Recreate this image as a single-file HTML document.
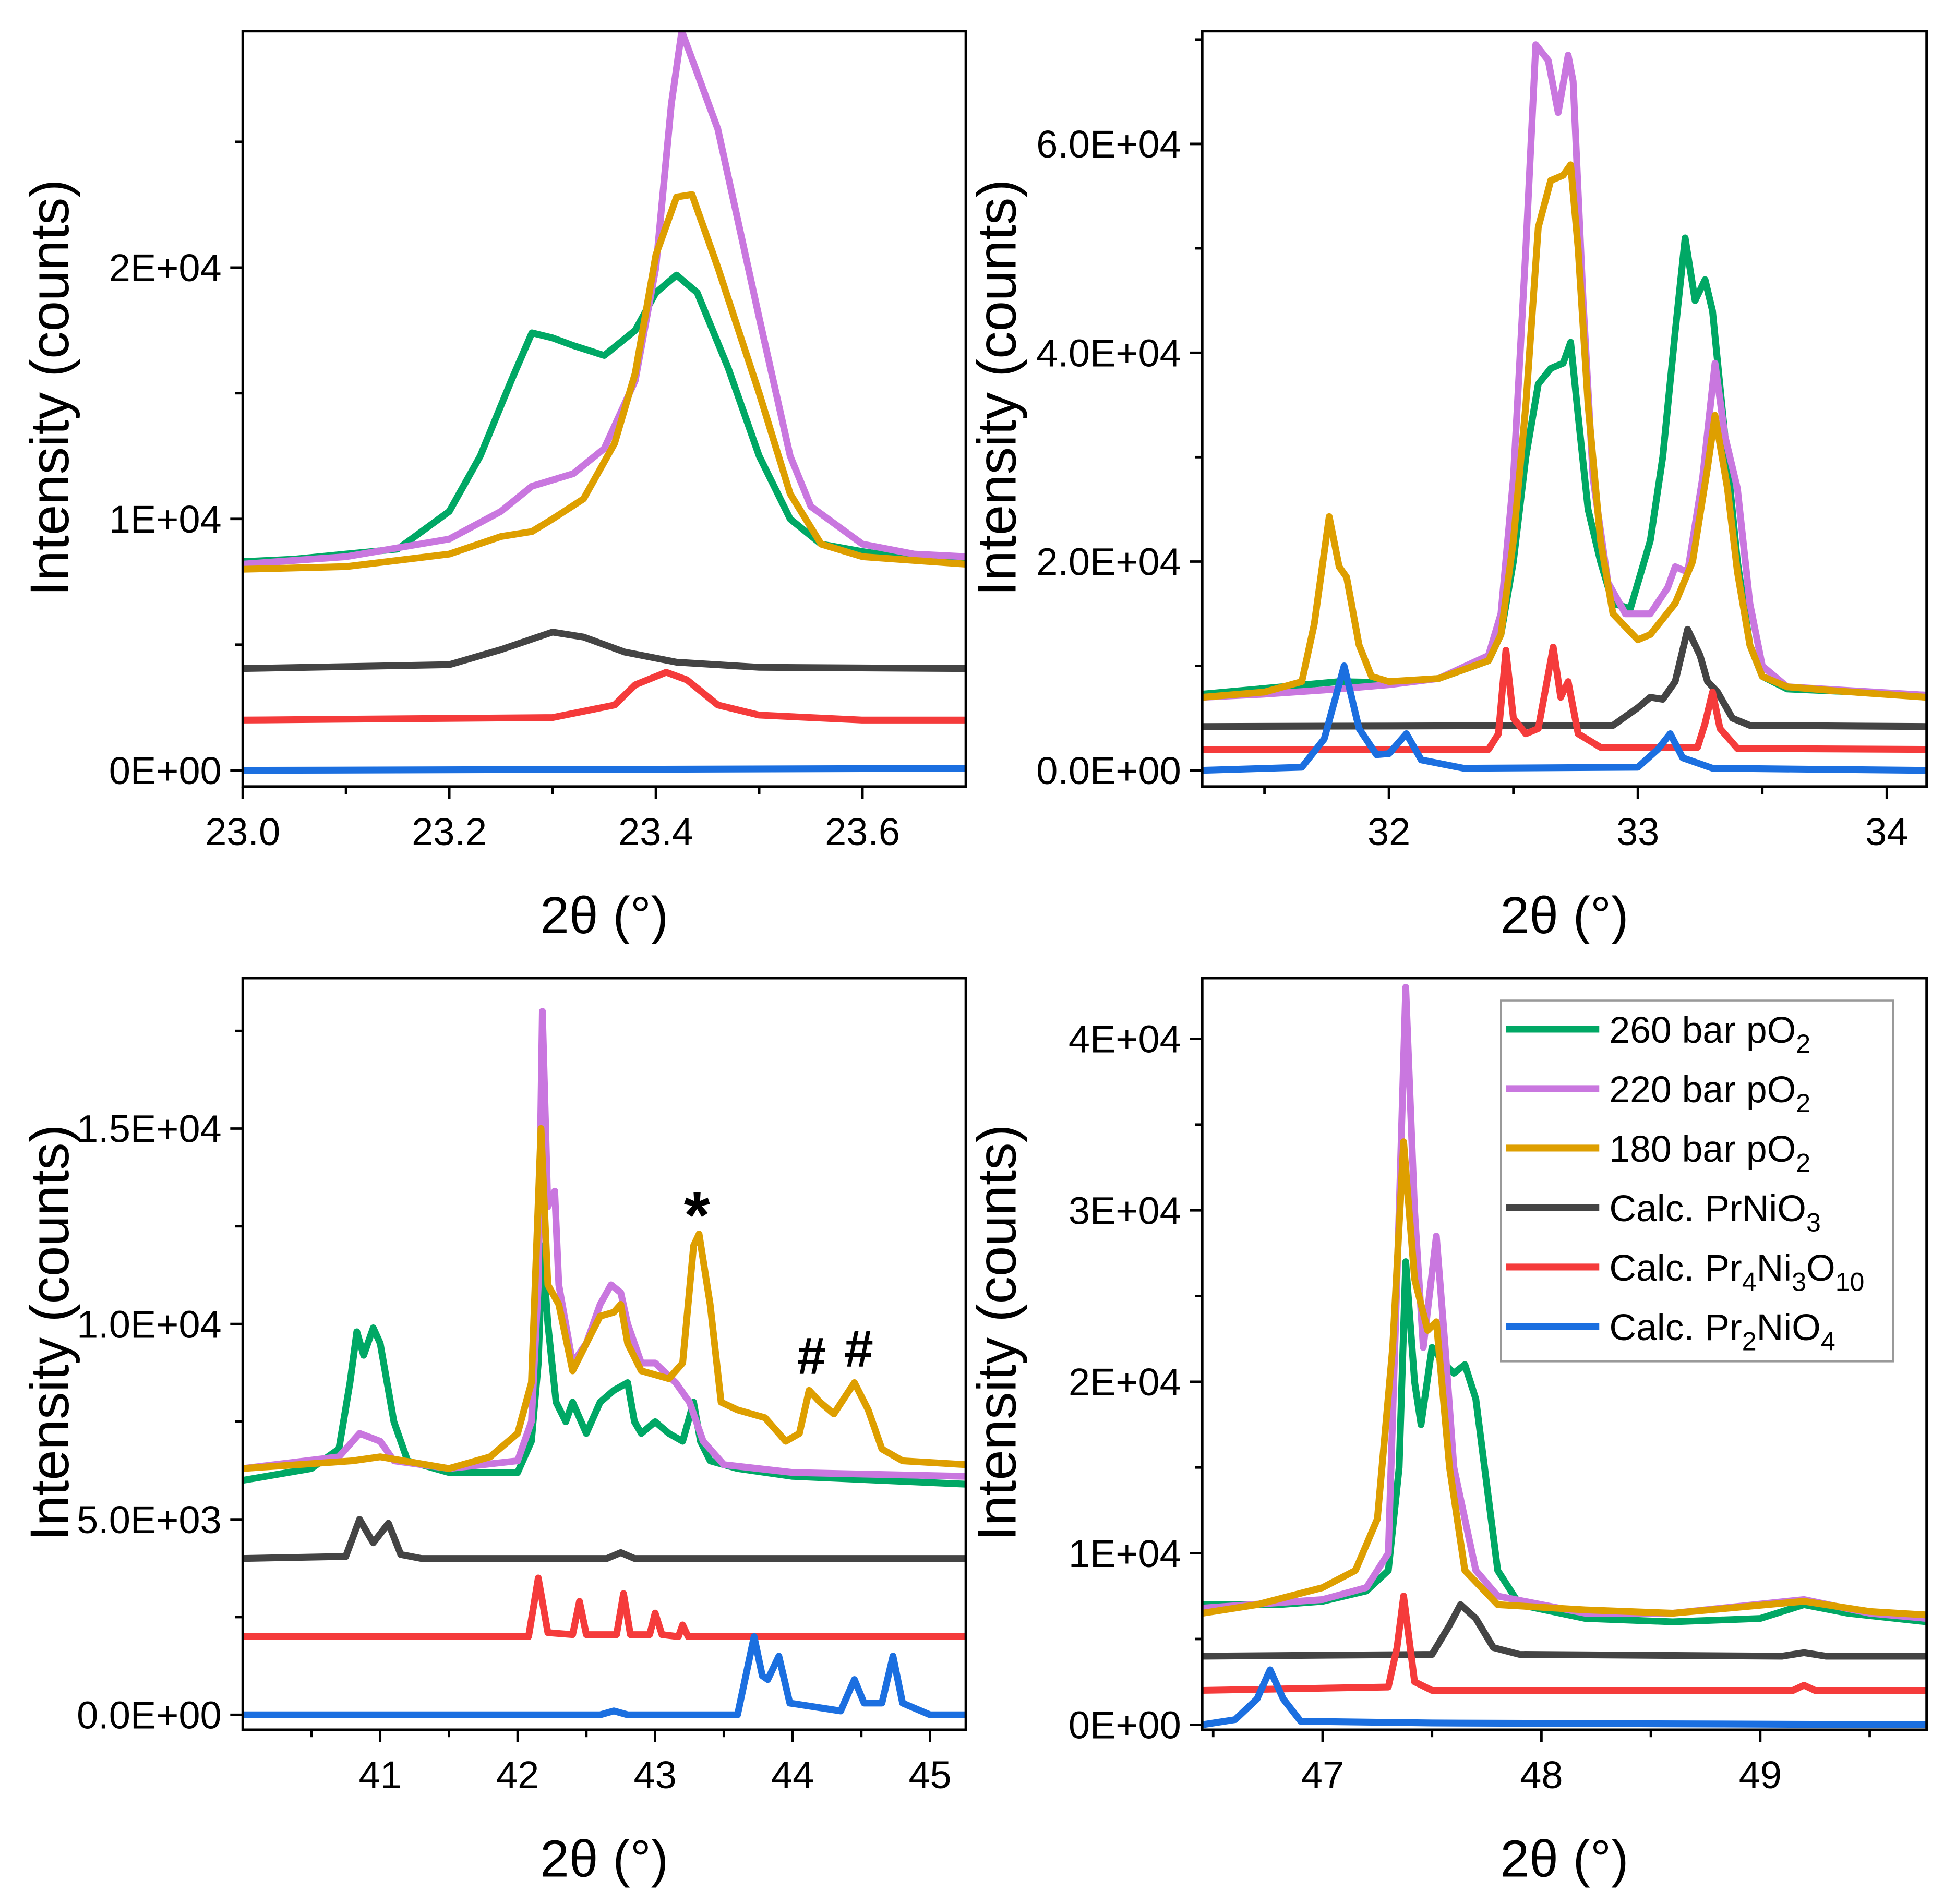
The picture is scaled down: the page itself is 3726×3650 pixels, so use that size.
<!DOCTYPE html>
<html><head><meta charset="utf-8"><style>
html,body{margin:0;padding:0;background:#fff;}
svg{display:block;}
text{font-family:"Liberation Sans",sans-serif;fill:#000;}
.tk{font-family:"Liberation Sans Narrow","Liberation Sans",sans-serif;font-size:31px;}
</style></head><body>
<svg id="chart" xmlns="http://www.w3.org/2000/svg" width="3726" height="3650" viewBox="0 0 1562 1530"></svg>
<script>
// ---- Panel 1 data (23.0–23.7) ----
const p1Green=[[23.0,8300],[23.05,8400],[23.1,8600],[23.15,8800],[23.2,10300],[23.23,12500],[23.26,15500],[23.28,17400],[23.3,17200],[23.32,16900],[23.35,16500],[23.38,17500],[23.4,19000],[23.42,19700],[23.44,19000],[23.47,16000],[23.5,12500],[23.53,10000],[23.56,9000],[23.6,8700],[23.65,8400],[23.7,8300]];
const p1Purple=[[23.0,8200],[23.1,8500],[23.2,9200],[23.25,10300],[23.28,11300],[23.32,11800],[23.35,12800],[23.38,15500],[23.4,20000],[23.415,26500],[23.425,29400],[23.46,25500],[23.5,18000],[23.53,12500],[23.55,10500],[23.6,9000],[23.65,8600],[23.7,8500]];
const p1Orange=[[23.0,8000],[23.1,8100],[23.2,8600],[23.25,9300],[23.28,9500],[23.3,10000],[23.33,10800],[23.36,13000],[23.38,15800],[23.4,20500],[23.42,22800],[23.435,22900],[23.46,20000],[23.5,15000],[23.53,11000],[23.56,9000],[23.6,8500],[23.7,8200]];
const p1Gray=[[23.0,4050],[23.2,4200],[23.25,4800],[23.3,5500],[23.33,5300],[23.37,4700],[23.42,4300],[23.5,4100],[23.7,4050]];
const p1Red=[[23.0,2000],[23.3,2100],[23.36,2600],[23.38,3400],[23.41,3900],[23.43,3600],[23.46,2600],[23.5,2200],[23.6,2000],[23.7,2000]];
const p1Blue=[[23.0,0],[23.7,80]];
// ---- Panel 2 data (31.25–34.16) ----
const p2Green=[[31.25,7300],[31.8,8500],[32.0,8400],[32.2,8800],[32.4,10500],[32.45,13000],[32.5,20000],[32.55,30000],[32.6,37000],[32.65,38500],[32.7,39000],[32.73,41000],[32.76,34000],[32.8,25000],[32.85,20000],[32.9,16000],[32.97,15500],[33.05,22000],[33.1,30000],[33.15,42000],[33.19,51000],[33.23,45000],[33.27,47000],[33.3,44000],[33.35,32000],[33.4,20000],[33.45,12000],[33.5,9000],[33.6,7800],[34.16,7200]];
const p2Purple=[[31.25,7000],[31.5,7300],[31.8,7800],[32.0,8200],[32.2,8800],[32.4,11000],[32.45,15000],[32.5,28000],[32.55,50000],[32.59,69500],[32.64,68000],[32.68,63000],[32.72,68500],[32.74,66000],[32.78,45000],[32.82,28000],[32.88,18000],[32.95,15000],[33.05,15000],[33.12,17500],[33.15,19500],[33.2,19000],[33.26,28000],[33.31,39000],[33.35,32000],[33.4,27000],[33.45,16000],[33.5,10000],[33.6,8000],[34.16,7200]];
const p2Orange=[[31.25,7000],[31.5,7500],[31.65,8500],[31.7,14000],[31.76,24300],[31.8,19500],[31.83,18500],[31.88,12000],[31.93,9000],[32.0,8500],[32.2,8800],[32.4,10500],[32.45,13000],[32.5,22000],[32.55,35000],[32.6,52000],[32.65,56500],[32.7,57000],[32.73,58000],[32.76,50000],[32.8,35000],[32.85,22000],[32.9,15000],[33.0,12500],[33.05,13000],[33.15,16000],[33.22,20000],[33.28,29000],[33.31,34000],[33.36,27000],[33.4,19000],[33.45,12000],[33.5,9000],[33.6,8000],[33.8,7600],[34.16,7000]];
const p2Gray=[[31.25,4200],[32.9,4300],[33.0,6000],[33.05,7000],[33.1,6800],[33.15,8500],[33.2,13500],[33.25,11000],[33.28,8500],[33.32,7500],[33.38,5000],[33.45,4300],[34.16,4200]];
const p2Red=[[31.25,2000],[32.4,2000],[32.44,3500],[32.47,11500],[32.5,5000],[32.55,3500],[32.6,4000],[32.66,11800],[32.69,7000],[32.72,8500],[32.76,3500],[32.85,2200],[33.24,2200],[33.27,4500],[33.3,7500],[33.33,4000],[33.4,2100],[34.16,2000]];
const p2Blue=[[31.25,0],[31.65,300],[31.74,3000],[31.82,10000],[31.88,4000],[31.95,1500],[32.0,1600],[32.07,3500],[32.13,1000],[32.3,200],[33.0,300],[33.08,2000],[33.13,3500],[33.18,1200],[33.3,200],[34.16,0]];
// ---- Panel 3 data (40.0–45.26) ----
const p3Green=[[40.0,6000],[40.5,6300],[40.7,6800],[40.78,8500],[40.83,9800],[40.88,9200],[40.95,9900],[41.0,9500],[41.1,7500],[41.2,6500],[41.5,6200],[42.0,6200],[42.1,7000],[42.15,9000],[42.18,12000],[42.22,10000],[42.28,8000],[42.35,7500],[42.4,8000],[42.5,7200],[42.6,8000],[42.7,8300],[42.8,8500],[42.85,7500],[42.9,7200],[43.0,7500],[43.1,7200],[43.2,7000],[43.28,8000],[43.33,7000],[43.4,6500],[43.6,6300],[44.0,6100],[45.26,5900]];
const p3Purple=[[40.0,6300],[40.7,6600],[40.85,7200],[41.0,7000],[41.1,6500],[41.5,6300],[42.0,6500],[42.1,7500],[42.15,11000],[42.18,18000],[42.22,13000],[42.27,13400],[42.3,11000],[42.4,9000],[42.5,9500],[42.6,10500],[42.68,11000],[42.75,10800],[42.8,10000],[42.9,9000],[43.0,9000],[43.15,8500],[43.25,8000],[43.35,7000],[43.5,6400],[44.0,6200],[45.26,6100]];
const p3Orange=[[40.0,6300],[40.8,6500],[41.0,6600],[41.5,6300],[41.8,6600],[42.0,7200],[42.1,8500],[42.17,15000],[42.22,11000],[42.3,10500],[42.4,8800],[42.5,9500],[42.6,10200],[42.7,10300],[42.75,10500],[42.8,9500],[42.9,8800],[43.1,8600],[43.2,9000],[43.28,12000],[43.32,12300],[43.4,10500],[43.48,8000],[43.6,7800],[43.8,7600],[43.95,7000],[44.05,7200],[44.12,8300],[44.2,8000],[44.3,7700],[44.45,8500],[44.55,7800],[44.65,6800],[44.8,6500],[45.26,6400]];
const p3Gray=[[40.0,4000],[40.75,4050],[40.85,5000],[40.95,4400],[41.06,4900],[41.15,4100],[41.3,4000],[42.65,4000],[42.75,4150],[42.85,4000],[45.26,4000]];
const p3Red=[[40.0,2000],[42.08,2000],[42.15,3500],[42.22,2100],[42.4,2050],[42.45,2900],[42.5,2050],[42.72,2050],[42.77,3100],[42.82,2050],[42.96,2050],[43.0,2600],[43.05,2050],[43.17,2000],[43.2,2300],[43.24,2000],[45.26,2000]];
const p3Blue=[[40.0,0],[42.6,0],[42.7,100],[42.8,0],[43.6,0],[43.72,2000],[43.78,1000],[43.82,900],[43.9,1500],[43.98,300],[44.35,100],[44.45,900],[44.52,300],[44.65,300],[44.73,1500],[44.8,300],[45.0,0],[45.26,0]];
// ---- Panel 4 data (46.45–49.76) ----
const p4Green=[[46.45,7000],[46.8,7000],[47.0,7200],[47.2,7800],[47.3,9000],[47.35,15000],[47.38,27000],[47.42,20000],[47.45,17500],[47.5,22000],[47.56,21000],[47.6,20500],[47.65,21000],[47.7,19000],[47.75,14000],[47.8,9000],[47.9,7000],[48.2,6200],[48.6,6000],[49.0,6200],[49.2,7000],[49.4,6500],[49.76,6000]];
const p4Purple=[[46.45,6800],[47.0,7300],[47.2,8000],[47.3,10000],[47.35,30000],[47.38,43000],[47.42,30000],[47.46,22000],[47.52,28500],[47.56,22000],[47.6,15000],[47.7,9000],[47.8,7500],[48.2,6500],[48.6,6500],[49.2,7300],[49.5,6500],[49.76,6200]];
const p4Orange=[[46.45,6500],[46.7,7000],[47.0,8000],[47.15,9000],[47.25,12000],[47.32,22000],[47.37,34000],[47.42,26000],[47.48,23000],[47.52,23500],[47.58,15000],[47.65,9000],[47.8,7000],[48.2,6700],[48.6,6500],[49.2,7200],[49.5,6600],[49.76,6400]];
const p4Gray=[[46.45,4000],[47.5,4100],[47.58,5800],[47.63,7000],[47.7,6200],[47.78,4500],[47.9,4100],[49.1,4000],[49.2,4200],[49.3,4000],[49.76,4000]];
const p4Red=[[46.45,2000],[47.3,2200],[47.34,4500],[47.37,7500],[47.42,2500],[47.5,2000],[49.15,2000],[49.2,2300],[49.25,2000],[49.76,2000]];
const p4Blue=[[46.45,0],[46.6,300],[46.7,1500],[46.76,3200],[46.82,1500],[46.9,200],[47.5,100],[49.76,0]];

const yTicks1=[0,10000,20000], yLab1=["0E+00","1E+04","2E+04"];
const yTicks2=[0,20000,40000,60000], yLab2=["0.0E+00","2.0E+04","4.0E+04","6.0E+04"];
const yTicks3=[0,5000,10000,15000], yLab3=["0.0E+00","5.0E+03","1.0E+04","1.5E+04"];
const yTicks4=[0,10000,20000,30000,40000], yLab4=["0E+00","1E+04","2E+04","3E+04","4E+04"];
const xTicks1=[23.0,23.2,23.4,23.6], xLab1=["23.0","23.2","23.4","23.6"];
const xTicks2=[32,33,34], xLab2=["32","33","34"];
const xTicks3=[41,42,43,44,45], xLab3=["41","42","43","44","45"];
const xTicks4=[47,48,49], xLab4=["47","48","49"];
const legendNames=["260 bar pO|2","220 bar pO|2","180 bar pO|2","Calc. PrNiO|3","Calc. Pr|4Ni|3O|10","Calc. Pr|2NiO|4"];

const COL={green:"#00a865",purple:"#c977df",orange:"#de9f00",gray:"#444444",red:"#f53b3b",blue:"#1b6fe0"};
const NS="http://www.w3.org/2000/svg";
const svg=document.getElementById('chart');
function mk(tag,attrs,parent){const e=document.createElementNS(NS,tag);for(const k in attrs)e.setAttribute(k,attrs[k]);(parent||svg).appendChild(e);return e;}

const panels=[
 {id:"p1",box:[195,25,776,632],x:[23.0,23.7],y:[0,29400],xt:xTicks1,xl:xLab1,xm:[23.1,23.3,23.5,23.7],yt:yTicks1,yl:yLab1,ym:[5000,15000,25000],
  s:{green:p1Green,purple:p1Purple,orange:p1Orange,gray:p1Gray,red:p1Red,blue:p1Blue}},
 {id:"p2",box:[966,25,1548,632],x:[31.25,34.16],y:[0,70800],xt:xTicks2,xl:xLab2,xm:[31.5,32.5,33.5],yt:yTicks2,yl:yLab2,ym:[10000,30000,50000,70000],
  s:{green:p2Green,purple:p2Purple,orange:p2Orange,gray:p2Gray,red:p2Red,blue:p2Blue}},
 {id:"p3",box:[195,786,776,1390],x:[40.0,45.26],y:[0,18850],xt:xTicks3,xl:xLab3,xm:[40.5,41.5,42.5,43.5,44.5],yt:yTicks3,yl:yLab3,ym:[2500,7500,12500,17500],
  s:{green:p3Green,purple:p3Purple,orange:p3Orange,gray:p3Gray,red:p3Red,blue:p3Blue}},
 {id:"p4",box:[966,786,1548,1390],x:[46.45,49.76],y:[0,43540],xt:xTicks4,xl:xLab4,xm:[46.5,47.5,48.5,49.5],yt:yTicks4,yl:yLab4,ym:[5000,15000,25000,35000],
  s:{green:p4Green,purple:p4Purple,orange:p4Orange,gray:p4Gray,red:p4Red,blue:p4Blue}}
];
const zeroPx=[619,619,1378,1386];

panels.forEach((p,i)=>{
  const [L,T,R,B]=p.box;
  const g=mk('g',{});
  
  
  const y0=zeroPx[i];
  const X=v=>L+(v-p.x[0])/(p.x[1]-p.x[0])*(R-L);
  const Y=v=>y0-v/p.y[1]*(y0-T);
  const cp=mk('clipPath',{id:'clip'+i},g);mk('rect',{x:L,y:T,width:R-L,height:B-T},cp);
  const lines=mk('g',{'clip-path':'url(#clip'+i+')'},g);
  ["green","purple","orange","gray","red","blue"].forEach(k=>{
    const d=p.s[k].map((pt,j)=>(j?'L':'M')+X(pt[0]).toFixed(1)+','+Y(pt[1]).toFixed(1)).join(' ');
    const pa=mk('path',{d:d,fill:'none',stroke:COL[k],'stroke-width':5.5,'stroke-linejoin':'round'},lines);
    
    
  });
  mk('rect',{x:L,y:T,width:R-L,height:B-T,fill:'none',stroke:'#000','stroke-width':2},g);
  p.xt.forEach((v,j)=>{const x=X(v);mk('line',{x1:x,y1:B,x2:x,y2:B+10,stroke:'#000','stroke-width':2},g);
    const t=mk('text',{x:x,y:B+47,'text-anchor':'middle',class:'tk'},g);t.textContent=p.xl[j];
    });
  p.xm.forEach(v=>{const x=X(v);if(x>L+1&&x<R-1)mk('line',{x1:x,y1:B,x2:x,y2:B+6,stroke:'#000','stroke-width':2},g);});
  p.yt.forEach((v,j)=>{const y=Y(v);mk('line',{x1:L-10,y1:y,x2:L,y2:y,stroke:'#000','stroke-width':2},g);
    const t=mk('text',{x:L-17,y:y+11,'text-anchor':'end',class:'tk'},g);t.textContent=p.yl[j];
    });
  p.ym.forEach(v=>{const y=Y(v);if(y>T)mk('line',{x1:L-6,y1:y,x2:L,y2:y,stroke:'#000','stroke-width':2},g);});
  const xt=mk('text',{x:(L+R)/2,y:B+118,'text-anchor':'middle','font-size':42},g);xt.textContent='2θ (°)';
  
  const yx=(i%2===0)?L-140:L-150;
  const yc=(T+B)/2-17;
  const yt=mk('text',{x:yx,y:yc,'text-anchor':'middle','font-size':44,transform:'rotate(-90 '+yx+' '+yc+')'},g);yt.textContent='Intensity (counts)';
  
});

[["*",560,995,54],["#",652,1104,42],["#",690,1098,42]].forEach(a=>{const t=mk('text',{x:a[1],y:a[2],'text-anchor':'middle','font-size':a[3],'font-weight':'bold'});t.textContent=a[0];
  });

const lg=mk('g',{});


mk('rect',{x:1206,y:804,width:315,height:290,fill:'#fff',stroke:'#999','stroke-width':1.5},lg);
const lkeys=["green","purple","orange","gray","red","blue"];
legendNames.forEach((nm,j)=>{
  const y=827+j*47.8;
  const e=mk('g',{},lg);
  
  
  mk('line',{x1:1210,y1:y,x2:1285,y2:y,stroke:COL[lkeys[j]],'stroke-width':5.5},e);
  const t=mk('text',{x:1293,y:y+11,'font-size':30},e);
  const parts=nm.split('|');
  parts.forEach((pt,k)=>{
    if(k===0){const s=mk('tspan',{},t);s.textContent=pt;return;}
    const m=pt.match(/^(\d+)(.*)$/);
    const sub=mk('tspan',{'font-size':21,dy:8},t);sub.textContent=m[1];
    const rest=mk('tspan',{dy:-8},t);rest.textContent=m[2]||'';
  });
});
</script>
</body></html>
